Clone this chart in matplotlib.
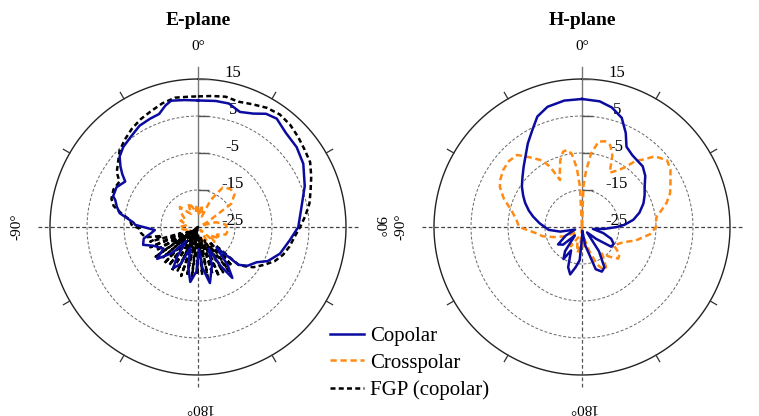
import numpy as np
import matplotlib.pyplot as plt

plt.rcParams['font.family'] = ['Liberation Serif', 'DejaVu Serif']

# E-plane, angles in degrees (clockwise from top), levels in dB
e_co_ang = [0, 8, 14, 20, 26, 31, 36, 43, 51, 59, 69, 79, 90, 98, 108, 116, 121, 128, 133,
            138, 142, 146, 150, 154, 160, 168, 174, 178, 182, 188, 194, 200, 205, 211, 215,
            220, 225, 232, 238, 243, 247, 252, 258, 263, 266, 269, 272, 274, 280, 284, 288,
            290, 296, 302, 305, 308, 312, 317, 324, 330, 336, 341, 345, 348, 354, 360]
e_co_db = [9.2, 9.4, 9.4, 8.1, 9.1, 10.7, 11.2, 9.8, 9.3, 8.2, 5.9, 3.5, 2.1, 0.1, -1.7, -4, -6.5, -8.0, -10,
           -17.5, -12, -8.4, -13, -18.5, -14, -9.5, -14, -19, -13, -10, -14, -19, -14, -12, -15,
           -20, -15, -11, -14, -13, -12, -9.4, -10, -12.4, -13.3, -11.1, -8, -7.5, -3.5, -2.4, -1.5,
           -0.6, -0.5, -1.8, 0, 1.6, 3.5, 4.6, 5.5, 6.6, 7, 7.3, 9, 9.9, 9.5, 9.2]

e_x_ang = [0, 5, 10, 15, 20, 25, 32, 40, 48, 55, 62, 68, 75, 85, 96, 105, 112, 118, 125, 132,
           140, 148, 157, 165, 172, 180, 190, 200, 210, 220, 230, 240, 250, 260, 270, 280, 290,
           300, 310, 318, 325, 332, 338, 345, 352, 356, 360]
e_x_db = [-20, -22, -19, -21, -22, -17, -12.5, -11.5, -11.7, -14, -22, -24, -20, -17.5, -16.8, -17.2, -19.5, -18.4, -21, -19,
          -24, -19.5, -18.8, -22, -21, -23, -22, -24, -23, -22, -24, -22, -23, -21, -20, -22, -20,
          -21, -19, -17.7, -20, -21, -18, -19.5, -21, -19, -20]

e_fgp_ang = [0, 6, 12, 18, 24, 30, 36, 42, 48, 54, 60, 66, 72, 78, 84, 90, 96, 102, 108, 114, 120, 126, 130,
             133, 136, 139, 142, 145, 148, 151, 154, 157, 160, 163, 166, 169, 172, 175, 178, 181, 184,
             187, 190, 193, 196, 199, 202, 205, 208, 211, 214, 217, 220, 223, 226, 229, 232, 235, 238,
             241, 244, 247, 250, 253, 256, 259,
             264, 268, 272, 276, 280, 284, 288, 294, 300, 304, 308, 314, 320, 326, 332, 338, 344, 350, 356, 360]
e_fgp_db = [10.3, 10.6, 11, 10.6, 11.3, 12.2, 12.6, 12.2, 11.4, 10.6, 10, 8.5, 7, 5.8, 4.2, 2.6, 1.2, 0.3, -0.8, -2.3, -4.5, -6.5, -8.5,
            -10, -18, -11, -20, -10.5, -19, -11, -21, -10.5, -20, -11.5, -22, -11, -21, -12, -23, -12, -22,
            -11.5, -23, -12, -24, -11, -24, -12, -24, -11, -25, -12, -24, -11.5, -25, -12.5, -24, -11, -23,
            -12, -22, -11, -20, -11.5, -15, -10.5,
            -9.5, -9.3, -7, -6.5, -4, -1.5, -0.4, 0, -0.5, 1.5, 2.5, 4.5, 5.8, 7, 8, 8.8, 9.8, 10.5, 10.3, 10.3]

# H-plane
h_co_ang = [0, 8, 14, 20, 25, 29, 35, 39, 45, 51, 57, 63, 69, 76, 82, 87, 90, 95, 100, 106, 112,
            118, 124, 130, 137, 145, 151, 156, 162, 170, 175, 180, 184, 189, 194, 199, 205, 210,
            215, 220, 227, 234, 242, 250, 258, 265, 268, 275, 282, 287, 293, 298, 304, 310, 316,
            322, 327, 333, 338, 344, 352, 360]
h_co_db = [9.6, 9.3, 8.3, 6.4, 3, -0.2, -1.3, -1.6, -1.8, -3, -4.8, -6, -7.2, -9, -11, -13.5, -15.6, -19, -22, -19, -16.5,
           -15.3, -15.5, -20, -23, -17, -12.5, -11.8, -13, -20, -24, -22, -16, -14, -11.8, -13.5, -18, -15,
           -17, -22, -18, -17, -20, -23, -19, -16, -15.4, -13.5, -11.5, -10, -8.3, -7, -5.4, -4, -2.3,
           -0.3, 1.9, 4.5, 7.2, 8.8, 9.5, 9.6]

h_x_ang = [0, 2, 4, 7, 11, 15, 19, 23, 27, 32, 36, 39, 42, 46, 52, 57, 64, 69, 74, 78, 82, 86, 90,
           96, 104, 110, 114, 120, 126, 131, 137, 143, 149, 153, 158, 163, 170, 175, 180, 185, 190,
           195, 200, 210, 220, 230, 240, 250, 257, 262, 270, 276, 283, 290, 296, 300, 306, 312, 318,
           323, 329, 332, 335, 338, 342, 346, 349, 352, 355, 357, 360]
h_x_db = [-25, -14, -10, -5, -1.5, -1, -1.6, -4, -8.5, -7, -5, -2, -0.5, 2.5, 4.2, 3.5, 1.6, 0.5, -1.2, -3, -4.6, -5, -5,
          -6.5, -10, -13, -14, -15, -12.5, -12, -14, -16, -12.4, -12, -14, -18, -22, -19, -25, -20, -18,
          -20, -22, -19, -21, -23, -20, -17, -14, -12.6, -8, -7.2, -5.5, -2.5, -0.3, 0.5, 1.3, 1.6, 1.2,
          -1.4, -4, -6.5, -11, -9, -6, -4, -3.8, -5, -9, -14, -25]

rings = [-15, -5, 5]
ring_labels = ['15', '5', '-5', '-15', '-25']
ring_label_pos = [15, 5, -5, -15, -25]
tick_angles = [30, 60, 120, 150, 210, 240, 300, 330]
navy = '#0B0BA0'
orange = '#FF8A14'


def make_polar(ax, title):
    ax.set_theta_zero_location('N')
    ax.set_theta_direction(-1)
    ax.set_rlim(-25, 15)
    ax.grid(False)
    ax.set_xticks([])
    ax.set_yticks([])
    ax.spines['polar'].set_visible(False)
    ax.patch.set_alpha(0)
    full = np.linspace(0, 2 * np.pi, 361)
    for r in rings:
        ax.plot(full, [r] * len(full), color='#666666', lw=0.7, ls=(0, (3, 2)), zorder=1)
    ax.plot(full, [15] * len(full), color='#222222', lw=1.0, zorder=1, clip_on=False)
    # cross lines
    ax.plot([0, 0], [-25, 18.3], color='#777777', lw=1.0, clip_on=False, zorder=1)
    ax.plot([np.pi, np.pi], [-25, 18.3], color='#555555', lw=0.9, ls=(0, (3, 2)), clip_on=False, zorder=1)
    ax.plot([np.pi / 2, np.pi / 2], [-25, 18.5], color='#444444', lw=0.9, ls=(0, (3, 2)), clip_on=False, zorder=1)
    ax.plot([3 * np.pi / 2, 3 * np.pi / 2], [-25, 18.5], color='#444444', lw=0.9, ls=(0, (3, 2)), clip_on=False, zorder=1)
    for a in tick_angles:
        ax.plot([np.radians(a)] * 2, [15, 17], color='#333333', lw=0.9, clip_on=False)
    # radial ticks and labels
    ax.plot([0] * 4, [15, 5, -5, -15], ls='none', marker=[(0, 0), (1, 0)],
            markersize=16, mec='#555555', mew=1.0, clip_on=False)
    for lab, r in zip(ring_labels, ring_label_pos):
        ax.annotate(lab, xy=(0, r), xytext=(25, 4), textcoords='offset points',
                    ha='center', va='center', fontsize=12)
    ax.text(0, 23.7, '0°', ha='center', va='center', fontsize=11)
    ax.text(np.pi, 23.7, '180°', ha='center', va='center', fontsize=11, rotation=180)
    ax.text(np.pi / 2, 23.9, '90°', ha='center', va='center', fontsize=11, rotation=-90)
    ax.text(3 * np.pi / 2, 23.9, '-90°', ha='center', va='center', fontsize=11, rotation=90)
    ax.text(0, 30.7, title, ha='center', va='center', fontsize=14, fontweight='bold')


fig = plt.figure(figsize=(7.59, 4.16), dpi=100)
ax1 = fig.add_axes([50 / 759, 41 / 416, 296 / 759, 296 / 416], projection='polar')
ax2 = fig.add_axes([434 / 759, 41 / 416, 296 / 759, 296 / 416], projection='polar')
make_polar(ax1, 'E-plane')
make_polar(ax2, 'H-plane')

l1, = ax1.plot(np.radians(e_co_ang), e_co_db, color=navy, lw=1.8, zorder=4, label='Copolar')
l2, = ax1.plot(np.radians(e_x_ang), e_x_db, color=orange, lw=1.8, ls=(0, (2.5, 1.5)), zorder=3, label='Crosspolar')
l3, = ax1.plot(np.radians(e_fgp_ang), e_fgp_db, color='black', lw=1.8, ls=(0, (2, 1.3)), zorder=3, label='FGP (copolar)')

ax2.plot(np.radians(h_co_ang), h_co_db, color=navy, lw=1.8, zorder=4)
ax2.plot(np.radians(h_x_ang), h_x_db, color=orange, lw=1.8, ls=(0, (2.5, 1.5)), zorder=3)

fig.legend(handles=[l1, l2, l3], loc='upper left', bbox_to_anchor=(322 / 759, 1 - 318 / 416),
           frameon=False, fontsize=15, handlelength=1.6, handletextpad=0.3, labelspacing=0.35,
           borderaxespad=0)

fig.savefig('out.png', dpi=100)
